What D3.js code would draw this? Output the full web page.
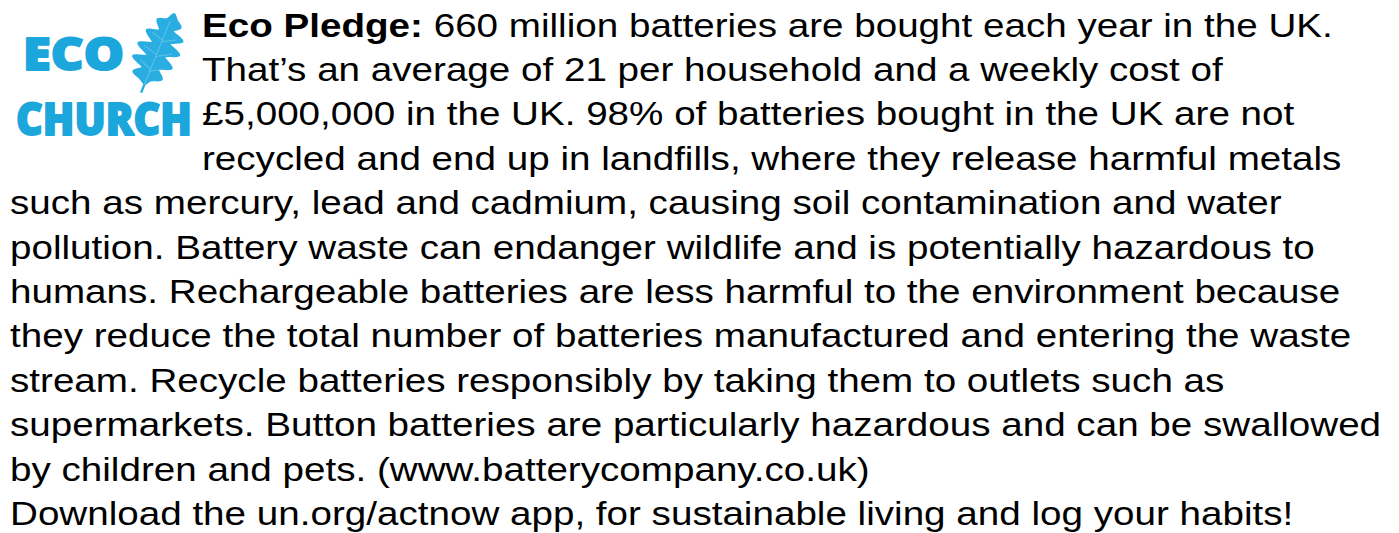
<!DOCTYPE html>
<html>
<head>
<meta charset="utf-8">
<script src="https://cdn.jsdelivr.net/npm/d3@7"></script>
<style>
	body { margin: 0; background: #fff; }
	svg { display: block; }
</style>
</head>
<body>
<script>

// text content, one entry per printed line
const boldLead = ['Eco Pledge:'];
const lines = [
	' 660 million batteries are bought each year in the UK.',
	'That\u2019s an average of 21 per household and a weekly cost of',
	'\u00a35,000,000 in the UK. 98% of batteries bought in the UK are not',
	'recycled and end up in landfills, where they release harmful metals',
	'such as mercury, lead and cadmium, causing soil contamination and water',
	'pollution. Battery waste can endanger wildlife and is potentially hazardous to',
	'humans. Rechargeable batteries are less harmful to the environment because',
	'they reduce the total number of batteries manufactured and entering the waste',
	'stream. Recycle batteries responsibly by taking them to outlets such as',
	'supermarkets. Button batteries are particularly hazardous and can be swallowed',
	'by children and pets. (www.batterycompany.co.uk)',
	'Download the un.org/actnow app, for sustainable living and log your habits!'
];
const indentedLines = 4;
const logoWords = ['ECO', 'CHURCH'];

const width = 1399;
const height = 533;
const blue = '#1ba6dc';
const stretch = 1.17; // the text in the picture is drawn a bit wide

const svg = d3.select('body')
	.append('svg')
	.attr('width', width)
	.attr('height', height);

// line index -> baseline
const yScale = d3.scaleLinear()
	.domain([0, lines.length - 1])
	.range([36.5, 525]);

const text = svg.append('g')
	.attr('font-family', 'Arial, "Liberation Sans", sans-serif')
	.attr('font-size', 33)
	.attr('fill', '#000');

const rows = text.selectAll('text')
	.data(lines)
	.enter()
	.append('text')
	.attr('transform', (d, i) => 'translate(' + (i < indentedLines ? 202 : 10) + ',' + yScale(i) + ') scale(' + stretch + ',1)')
	.attr('xml:space', 'preserve');

rows.filter((d, i) => i === 0)
	.append('tspan')
	.attr('font-weight', 'bold')
	.text(boldLead[0]);

rows.append('tspan')
	.text(d => d);

// logo
const logo = svg.append('g')
	.attr('font-family', '"Open Sans", Roboto, sans-serif')
	.attr('font-weight', 800)
	.attr('font-size', 45)
	.attr('fill', blue)
	.attr('stroke', blue)
	.attr('stroke-width', 1.8)
	.attr('stroke-linejoin', 'round');

logo.append('text')
	.attr('x', 23)
	.attr('y', 70)
	.attr('textLength', 101)
	.attr('lengthAdjust', 'spacingAndGlyphs')
	.text(logoWords[0]);

logo.append('text')
	.attr('x', 16)
	.attr('y', 135)
	.attr('textLength', 176)
	.attr('lengthAdjust', 'spacingAndGlyphs')
	.text(logoWords[1]);

// oak leaf outline, stem at origin, tip pointing up
const leafPts = [
	[0, -5], [-6, -8], [-15, -12], [-8, -19], [-21, -26], [-8, -32],
	[-21, -40], [-8, -46], [-18, -55], [-6, -60], [-12, -69], [-3, -73],
	[1, -80], [6, -75], [12, -70], [6, -64], [19, -58], [8, -51],
	[21, -44], [8, -37], [19, -29], [7, -23], [14, -15], [4, -10]
];
const leafLine = d3.line().curve(d3.curveCatmullRomClosed.alpha(0.5));

const leaf = svg.append('g')
	.attr('transform', 'translate(143,88) rotate(22)');

leaf.append('path')
	.attr('d', leafLine(leafPts))
	.attr('fill', '#2aaee2')
	.attr('stroke', '#2aaee2')
	.attr('stroke-width', 2.5)
	.attr('stroke-linejoin', 'round');

leaf.append('line')
	.attr('x1', 0).attr('y1', 5)
	.attr('x2', 0).attr('y2', -5)
	.attr('stroke', '#2aaee2')
	.attr('stroke-width', 2.5);

// faint veins
const veins = [
	[[0, -4], [0, -72]],
	[[0, -20], [-13, -25]], [[0, -36], [-15, -40]], [[0, -52], [-12, -55]],
	[[0, -18], [10, -24]], [[0, -34], [14, -42]], [[0, -50], [13, -57]]
];
leaf.selectAll('.vein')
	.data(veins)
	.enter()
	.append('path')
	.attr('class', 'vein')
	.attr('d', d => d3.line()(d))
	.attr('stroke', '#8fd3f0')
	.attr('stroke-width', 1)
	.attr('fill', 'none')
	.attr('opacity', 0.5);

</script>
</body>
</html>
